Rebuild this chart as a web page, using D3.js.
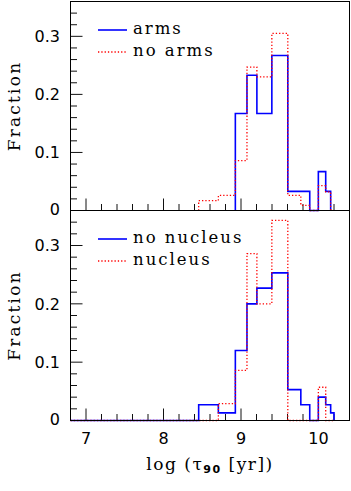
<!DOCTYPE html>
<html>
<head>
<meta charset="utf-8">
<script src="https://cdn.jsdelivr.net/npm/d3@7"></script>
<style>
  body { margin: 0; background: #fff; }
  svg { display: block; }
  .serif { font-family: "DejaVu Serif", serif; fill: #000; }
  .tick-label { font-family: "DejaVu Sans", sans-serif; font-size: 16px; fill: #000; }
</style>
</head>
<body>
<script>
// bin edges of log(tau90) histograms
var binEdges = [8.454, 8.708, 8.927, 9.077, 9.205, 9.398, 9.604, 9.772, 9.887, 9.998, 10.093, 10.157, 10.2];
// top panel (null = bin not drawn)
var arms   = [null, null, 0.167, 0.233, 0.167, 0.267, 0.033, 0.033, 0, 0.067, 0.033, null];
var noArms = [0.017, 0.026, 0.086, 0.247, 0.230, 0.305, 0.026, 0.009, 0, 0.043, 0.032, null];
// bottom panel histograms start at the left limit
var histStart = 6.8;
var noNucleus = [0, 0.027, 0.013, 0.120, 0.200, 0.227, 0.253, 0.053, 0.027, 0, 0.040, 0.027, 0.013];
var nucleus   = [0, 0, 0.029, 0.086, 0.286, 0.200, 0.343, 0, 0, 0, 0.057, 0, 0];

var xTicks = [7, 8, 9, 10];
var yTicks = [0, 0.1, 0.2, 0.3];
var topLegend = ["arms", "no arms"];
var bottomLegend = ["no nucleus", "nucleus"];

(function(){
  var width = 351, height = 491;
  var svg = d3.select("body").append("svg")
      .attr("width", width).attr("height", height);

  var x = d3.scaleLinear().domain([6.8, 10.4]).range([70.5, 349.5]);

  function stepPoints(edges, vals){
    var runs = [], cur = null;
    vals.forEach(function(v, i){
      if (v === null) { if (cur) { cur.push([edges[i], 0]); runs.push(cur); cur = null; } return; }
      if (!cur) cur = [[edges[i], 0]];
      cur.push([edges[i], v], [edges[i+1], v]);
    });
    if (cur) { cur.push([edges[vals.length], 0]); runs.push(cur); }
    return runs;
  }

  function panel(y0, y1, series, legend, showX){
    var y = d3.scaleLinear().domain([0, 0.36]).range([y0, y1]);
    var g = svg.append("g");

    // minor + major ticks
    d3.range(7, 10.41, 0.2).forEach(function(v){
      var major = Math.abs(v - Math.round(v)) < 1e-6;
      g.append("line")
        .attr("x1", x(v)).attr("x2", x(v))
        .attr("y1", y0).attr("y2", y0 - (major ? 12 : 6.5))
        .attr("stroke", "#111").attr("stroke-width", 1);
    });
    d3.range(0.02, 0.35, 0.02).forEach(function(v){
      var major = Math.abs(v * 10 - Math.round(v * 10)) < 1e-6;
      g.append("line")
        .attr("x1", x.range()[0]).attr("x2", x.range()[0] + (major ? 12 : 6.5))
        .attr("y1", y(v)).attr("y2", y(v))
        .attr("stroke", "#111").attr("stroke-width", 1);
    });

    yTicks.forEach(function(v){
      g.append("text").attr("class", "tick-label")
        .attr("x", 60).attr("y", y(v))
        .attr("dy", v === 0 ? "0.3em" : "0.36em")
        .attr("text-anchor", "end")
        .text(v === 0 ? "0" : d3.format(".1f")(v));
    });

    if (showX) {
      xTicks.forEach(function(v){
        g.append("text").attr("class", "tick-label")
          .attr("x", x(v)).attr("y", y0 + 23)
          .attr("text-anchor", "middle")
          .text(v);
      });
    }

    var line = d3.line().x(function(d){ return x(d[0]); }).y(function(d){ return y(d[1]); });
    series.forEach(function(s){
      stepPoints(s.edges, s.vals).forEach(function(run){
        g.append("path")
          .attr("d", line(run))
          .attr("fill", "none")
          .attr("stroke", s.color)
          .attr("stroke-width", s.dash ? 1.3 : 1.6)
          .attr("stroke-dasharray", s.dash || null);
      });
    });

    // frame
    g.append("rect")
      .attr("x", x.range()[0]).attr("y", y1)
      .attr("width", x.range()[1] - x.range()[0]).attr("height", y0 - y1)
      .attr("fill", "none").attr("stroke", "#000").attr("stroke-width", 1);

    // legend
    legend.forEach(function(name, i){
      var ly = y1 + 28.5 + i * 22;
      g.append("line")
        .attr("x1", 98).attr("x2", 127).attr("y1", ly).attr("y2", ly)
        .attr("stroke", series[i].color)
        .attr("stroke-width", series[i].dash ? 1.3 : 1.6)
        .attr("stroke-dasharray", series[i].dash || null);
      g.append("text").attr("class", "serif")
        .attr("x", 133).attr("y", ly + 3.5)
        .attr("font-size", 16.5).attr("letter-spacing", 2)
        .text(name);
    });

    g.append("text").attr("class", "serif")
      .attr("transform", "translate(20," + ((y0 + y1) / 2) + ") rotate(-90)")
      .attr("text-anchor", "middle")
      .attr("font-size", 17).attr("letter-spacing", 2.2)
      .text("Fraction");
  }

  panel(210.5, 1.5, [
    {edges: binEdges, vals: arms, color: "#0000ff"},
    {edges: binEdges, vals: noArms, color: "#ff0000", dash: "1.3,2"}
  ], topLegend, false);

  panel(420.5, 210.5, [
    {edges: [histStart].concat(binEdges), vals: noNucleus, color: "#0000ff"},
    {edges: [histStart].concat(binEdges), vals: nucleus, color: "#ff0000", dash: "1.3,2"}
  ], bottomLegend, true);

  var t = svg.append("text").attr("class", "serif")
    .attr("x", 210).attr("y", 470)
    .attr("text-anchor", "middle")
    .attr("font-size", 17).attr("letter-spacing", 1.5);
  t.append("tspan").text("log (\u03c4");
  t.append("tspan").attr("dy", 3).attr("font-size", 11)
    .attr("font-family", "DejaVu Sans, sans-serif").attr("font-weight", "bold").text("90");
  t.append("tspan").attr("dy", -3).text(" [yr])");
})();
</script>
</body>
</html>
